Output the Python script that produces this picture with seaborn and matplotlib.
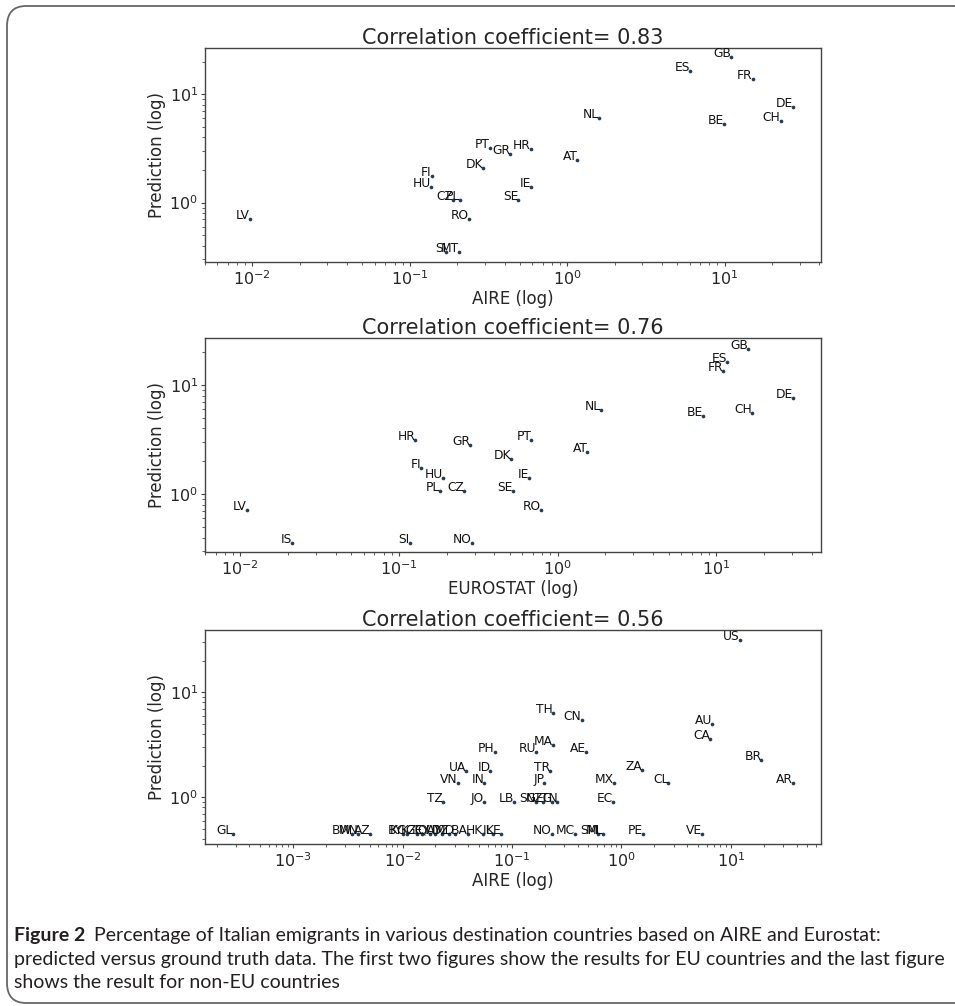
import matplotlib
matplotlib.use("Agg")
import matplotlib.pyplot as plt
import seaborn as sns
import pandas as pd
from matplotlib.patches import FancyBboxPatch

# ---- Panel 1 : EU, AIRE vs prediction ----
eu_aire_codes = ["GB", "ES", "FR", "DE", "CH", "BE", "NL", "AT", "PT", "GR", "HR",
                 "DK", "FI", "HU", "IE", "CZ", "PL", "SE", "RO", "LV", "SI", "MT"]
eu_aire_x = [11.0, 6.04, 15.1, 27.4, 22.7, 9.9, 1.60, 1.16, 0.322, 0.436, 0.588,
             0.294, 0.138, 0.136, 0.588, 0.189, 0.208, 0.489, 0.239, 0.0096, 0.171, 0.205]
eu_aire_pred = [22.0, 16.5, 13.8, 7.7, 5.65, 5.3, 6.0, 2.46, 3.18, 2.82, 3.15,
                2.10, 1.76, 1.40, 1.40, 1.06, 1.05, 1.06, 0.70, 0.71, 0.353, 0.353]

# ---- Panel 2 : EU, EUROSTAT vs prediction ----
eu_stat_codes = ["GB", "ES", "FR", "DE", "CH", "BE", "NL", "AT", "PT", "HR", "GR", "DK",
                 "FI", "HU", "IE", "PL", "CZ", "SE", "RO", "LV", "IS", "SI", "NO"]
eu_stat_x = [15.9, 11.7, 11.1, 30.3, 16.8, 8.23, 1.88, 1.54, 0.682, 0.127, 0.282, 0.510,
             0.138, 0.189, 0.66, 0.181, 0.257, 0.524, 0.786, 0.011, 0.0211, 0.117, 0.288]
eu_stat_pred = [21.3, 16.1, 13.5, 7.65, 5.58, 5.24, 5.94, 2.45, 3.16, 3.14, 2.81, 2.12,
                1.75, 1.41, 1.41, 1.06, 1.06, 1.06, 0.714, 0.714, 0.361, 0.361, 0.361]

# ---- Panel 3 : non-EU, AIRE vs prediction ----
noneu_codes = ["US", "TH", "CN", "AU", "CA", "MA", "RU", "PH", "AE", "BR",
               "UA", "ID", "TR", "ZA", "VN", "IN", "JP", "MX", "CL", "AR",
               "TZ", "JO", "LB", "SG", "NZ", "EG", "TN", "EC",
               "GL", "BW", "MN", "AZ",
               "BY", "KG", "KZ", "GE", "CY", "QA", "UY", "DZ", "MD", "BA",
               "HK", "IL", "KE",
               "NO", "MC", "SM", "ML", "PE", "VE"]
noneu_x = [12.0, 0.236, 0.432, 6.78, 6.48, 0.236, 0.167, 0.0697, 0.473, 19.0,
           0.0382, 0.0636, 0.224, 1.55, 0.0321, 0.056, 0.197, 0.855, 2.68, 36.9,
           0.0233, 0.0555, 0.105, 0.166, 0.194, 0.234, 0.260, 0.833,
           0.000283, 0.00344, 0.00396, 0.00506,
           0.0101, 0.0110, 0.0136, 0.0151, 0.0179, 0.0198, 0.0230, 0.0266, 0.0302, 0.0397,
           0.0545, 0.0672, 0.0795,
           0.231, 0.377, 0.611, 0.679, 1.57, 5.44]
noneu_pred = [31.5, 6.31, 5.45, 4.96, 3.61, 3.15, 2.72, 2.72, 2.72, 2.25,
              1.79, 1.79, 1.79, 1.82, 1.36, 1.36, 1.36, 1.36, 1.36, 1.36,
              0.90, 0.90, 0.90, 0.90, 0.90, 0.90, 0.90, 0.90,
              0.45, 0.45, 0.45, 0.45,
              0.45, 0.45, 0.45, 0.45, 0.45, 0.45, 0.45, 0.45, 0.45, 0.45,
              0.45, 0.45, 0.45,
              0.45, 0.45, 0.45, 0.45, 0.45, 0.45]

panels = [
    (eu_aire_codes, eu_aire_x, eu_aire_pred, "AIRE (log)", "0.83", (0.005, 41), (0.283, 26.8), 48),
    (eu_stat_codes, eu_stat_x, eu_stat_pred, "EUROSTAT (log)", "0.76", (0.006, 45.7), (0.296, 26.9), 338),
    (noneu_codes, noneu_x, noneu_pred, "AIRE (log)", "0.56", (1.57e-4, 66.5), (0.359, 39.2), 630),
]

sns.set_style("ticks")
plt.rcParams["font.family"] = ["DejaVu Sans"]

W, H = 955, 1006
fig = plt.figure(figsize=(W / 100, H / 100), dpi=100)

dot_color = "#1f3d5c"
spine_color = "#444444"

for codes, xs, ys, xlabel, corr, xlim, ylim, top in panels:
    left, right, height = 205, 821, 214
    ax = fig.add_axes([left / W, 1 - (top + height) / H, (right - left) / W, height / H])
    df = pd.DataFrame({"code": codes, "x": xs, "y": ys})
    sns.scatterplot(data=df, x="x", y="y", ax=ax, s=7, color=dot_color,
                    edgecolor=None, linewidth=0)
    ax.set_xscale("log")
    ax.set_yscale("log")
    ax.set_xlim(*xlim)
    ax.set_ylim(*ylim)
    for _, r in df.iterrows():
        ax.text(r["x"], r["y"], r["code"], ha="right", va="baseline",
                fontsize=8.8, color="#111111")
    ax.set_title("Correlation coefficient= " + corr, fontsize=15, pad=3)
    ax.set_xlabel(xlabel, fontsize=12, labelpad=2)
    ax.set_ylabel("Prediction (log)", fontsize=12, labelpad=2)
    ax.tick_params(axis="both", which="major", labelsize=11.5, length=3, width=0.8,
                   color=spine_color, pad=2)
    ax.tick_params(axis="both", which="minor", length=2, width=0.6, color=spine_color)
    for s in ax.spines.values():
        s.set_color(spine_color)
        s.set_linewidth(1.0)
        s.set_visible(True)

# rounded frame around the figure
frame = FancyBboxPatch((7 / W, 3 / H), 1.02 - 7 / W, 1 - 9 / H,
                       boxstyle="round,pad=0,rounding_size=0.02",
                       transform=fig.transFigure, fill=False,
                       edgecolor="#666666", linewidth=1.3, clip_on=False)
fig.patches.append(frame)

# caption
cap_font = ["Lato", "DejaVu Sans"]
cap_color = "#231f20"
cap_size = 14.0
renderer = fig.canvas.get_renderer()
t_bold = fig.text(14 / W, 1 - 935 / H, "Figure 2", fontsize=cap_size, family=cap_font,
                  weight="bold", color=cap_color, va="center", ha="left")
bb = t_bold.get_window_extent(renderer)
fig.text(bb.x1 / W + 9 / W, 1 - 935 / H,
         "Percentage of Italian emigrants in various destination countries based on AIRE and Eurostat:",
         fontsize=cap_size, family=cap_font, color=cap_color, va="center", ha="left")
fig.text(14 / W, 1 - 959 / H,
         "predicted versus ground truth data. The first two figures show the results for EU countries and the last figure",
         fontsize=cap_size, family=cap_font, color=cap_color, va="center", ha="left")
fig.text(14 / W, 1 - 983 / H, "shows the result for non-EU countries",
         fontsize=cap_size, family=cap_font, color=cap_color, va="center", ha="left")

fig.savefig("out.png", dpi=100)
